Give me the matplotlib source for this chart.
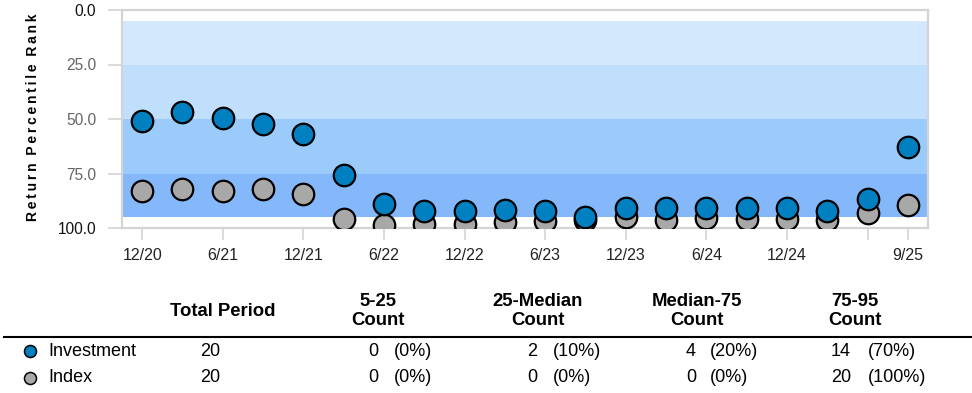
import matplotlib
matplotlib.use("Agg")
import matplotlib.pyplot as plt
from matplotlib.lines import Line2D

plt.rcParams['font.family'] = ['Liberation Sans', 'DejaVu Sans']

# quarterly percentile ranks (lower = better)
quarters = ['12/20', '3/21', '6/21', '9/21', '12/21', '3/22', '6/22', '9/22', '12/22', '3/23',
            '6/23', '9/23', '12/23', '3/24', '6/24', '9/24', '12/24', '3/25', '6/25', '9/25']
investment = [50.8, 46.6, 49.6, 52.3, 56.9, 75.7, 89.1, 92.0, 92.0, 91.9,
              92.0, 94.8, 91.0, 91.0, 91.0, 91.0, 91.0, 92.0, 86.7, 63.0]
index = [82.9, 82.1, 83.0, 82.1, 84.6, 95.9, 98.6, 98.3, 98.3, 97.4,
         96.6, 96.5, 94.8, 96.3, 95.6, 95.9, 95.9, 96.3, 93.0, 89.3]
tick_labels = {'12/20': '12/20', '6/21': '6/21', '12/21': '12/21', '6/22': '6/22',
               '12/22': '12/22', '6/23': '6/23', '12/23': '12/23', '6/24': '6/24',
               '12/24': '12/24', '6/25': '', '9/25': '9/25'}

# peer group bands
band_edges = [5, 25, 50, 75, 95]
band_colors = ['#d3e8fd', '#c0dffc', '#9acbfb', '#85b8fa']

# summary table
series_names = ['Investment', 'Index']
series_colors = ['#0080c0', '#a8a8a8']
total_period = [20, 20]
col_headers = ['5-25\nCount', '25-Median\nCount', 'Median-75\nCount', '75-95\nCount']
counts_investment = [0, 2, 4, 14]
counts_index = [0, 0, 0, 20]

W, H = 972, 393
fig = plt.figure(figsize=(W / 100, H / 100), dpi=100)
ax = fig.add_axes([122 / W, 1 - 228 / H, (928 - 122) / W, (228 - 10) / H])

# each band runs down to the 95th percentile and the next one is painted over it,
# so no seams show between neighbours
for i in range(len(band_colors)):
    ax.axhspan(band_edges[i], band_edges[-1], color=band_colors[i], lw=0, zorder=0)

x = list(range(len(quarters)))
ax.scatter(x, index, s=240, c=series_colors[1], edgecolors='black', linewidths=1.6, zorder=3)
ax.scatter(x, investment, s=240, c=series_colors[0], edgecolors='black', linewidths=1.6, zorder=4)

ax.set_xlim(-0.5, len(quarters) - 0.5)
ax.set_ylim(100, 0)
ax.set_yticks([0, 25, 50, 75, 100])
ax.set_yticklabels(['0.0', '25.0', '50.0', '75.0', '100.0'], fontsize=11.2)
for lbl, col in zip(ax.get_yticklabels(), ['#111111', '#666666', '#666666', '#666666', '#111111']):
    lbl.set_color(col)
tpos = [quarters.index(q) for q in tick_labels]
ax.set_xticks(tpos)
ax.set_xticklabels(list(tick_labels.values()), fontsize=11.5, color='#222222')
ax.tick_params(axis='x', length=8.6, width=1.3, color='#d8d8d8', pad=6)
ax.tick_params(axis='y', length=10, width=1.3, color='#d8d8d8', pad=8.6)
for s in ax.spines.values():
    s.set_color('#d4d4d4')
    s.set_linewidth(1.6)
ax.set_ylabel('R\u2009e\u2009t\u2009u\u2009r\u2009n  P\u2009e\u2009r\u2009c\u2009e\u2009n\u2009t\u2009i\u2009l\u2009e  R\u2009a\u2009n\u2009k',
              fontsize=10, fontweight='bold')
ax.yaxis.set_label_coords(-0.102, 0.51)

# table drawn in pixel coordinates
tb = fig.add_axes([0, 0, 1, 1], zorder=-1)
tb.set_xlim(0, W)
tb.set_ylim(H, 0)
tb.axis('off')

tb.text(223, 311, 'Total Period', ha='center', va='center', fontsize=13.3, fontweight='bold')
hx = [378, 538, 697, 855]
for cx, h in zip(hx, col_headers):
    tb.text(cx, 311, h, ha='center', va='center', fontsize=13.3, fontweight='bold', linespacing=1.15)
tb.add_line(Line2D([4, W], [337, 337], color='black', lw=1.5))

count_right = [378, 537, 696, 851]
pct_left = [394, 553, 710, 868]
row_y = [351, 378]
for name, col, tot, cnts, ry in zip(series_names, series_colors, total_period,
                                    [counts_investment, counts_index], row_y):
    tb.scatter([30], [ry], s=75, c=col, edgecolors='black', linewidths=1.1)
    tb.text(48, ry, name, ha='left', va='center', fontsize=13)
    tb.text(210, ry, str(tot), ha='center', va='center', fontsize=13)
    for c, xr, xl in zip(cnts, count_right, pct_left):
        tb.text(xr, ry, str(c), ha='right', va='center', fontsize=13)
        tb.text(xl, ry, '(%d%%)' % round(100 * c / tot), ha='left', va='center', fontsize=13)

fig.savefig('out.png', dpi=100)
